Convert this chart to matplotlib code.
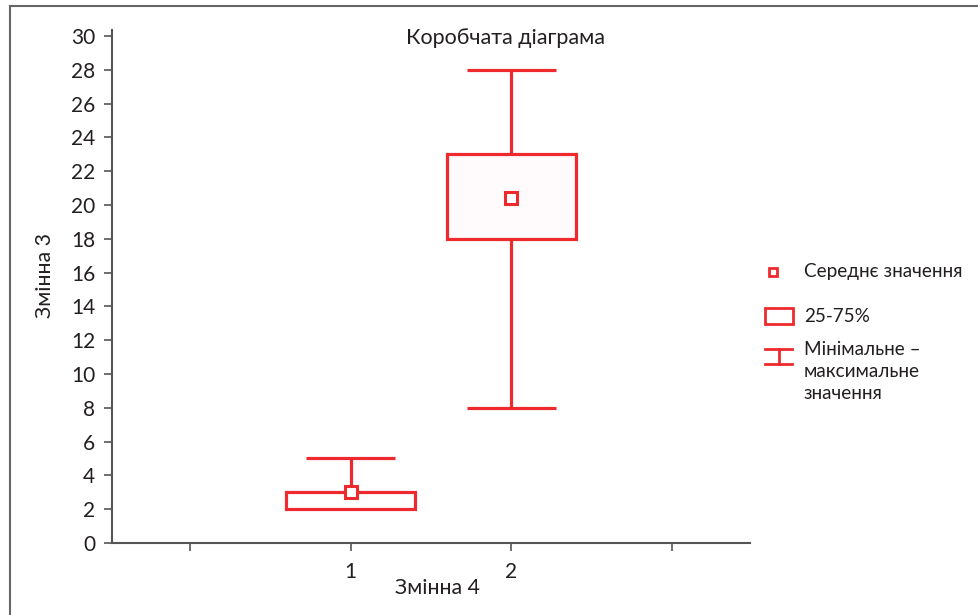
import matplotlib
matplotlib.use("Agg")
import matplotlib.pyplot as plt
from matplotlib.patches import Rectangle
from matplotlib.lines import Line2D

# ---- data ----
groups = [1, 2]
q1 = [2, 18]
q3 = [3, 23]
mins = [2, 8]
maxs = [5, 28]
means = [3, 20.4]
xticks = [0, 1, 2, 3]
xticklabels = ["", "1", "2", ""]
yticks = list(range(0, 31, 2))

title = "Коробчата діаграма"
xlabel = "Змінна 4"
ylabel = "Змінна 3"
leg_labels = ["Середнє значення", "25-75%", "Мінімальне –\nмаксимальне\nзначення"]

RED = "#ee2a2e"
TXT = "#231f20"
AX = "#555555"
FONT = ["Lato", "DejaVu Sans"]
plt.rcParams['font.family'] = FONT

W, H = 979, 615
fig = plt.figure(figsize=(W / 100, H / 100), dpi=100)

def fx(px):
    return px / W

def fy(py):
    return 1 - py / H

ax = fig.add_axes([fx(112), fy(543), fx(750) - fx(112), fy(30) - fy(543)])
ax.set_xlim(-0.485, 3.485)
ax.set_ylim(0, 30.35)

box_w = 0.8
cap_w = 0.55
lw = 2.3
fills = ["white", "#fffafc"]
for i, g in enumerate(groups):
    ax.plot([g, g], [q3[i], maxs[i]], color=RED, lw=lw, solid_capstyle='butt', zorder=2)
    ax.plot([g, g], [mins[i], q1[i]], color=RED, lw=lw, solid_capstyle='butt', zorder=2)
    ax.plot([g - cap_w / 2, g + cap_w / 2], [maxs[i], maxs[i]], color=RED, lw=lw, solid_capstyle='butt', zorder=2)
    if mins[i] < q1[i]:
        ax.plot([g - cap_w / 2, g + cap_w / 2], [mins[i], mins[i]], color=RED, lw=lw, solid_capstyle='butt', zorder=2)
    ax.add_patch(Rectangle((g - box_w / 2, q1[i]), box_w, q3[i] - q1[i],
                           facecolor=fills[i], edgecolor=RED, lw=lw, zorder=3))
    ax.plot([g], [means[i]], marker='s', ms=8.5, mfc='white', mec=RED, mew=2.2, zorder=4, ls='none')

for s in ["top", "right"]:
    ax.spines[s].set_visible(False)
for s in ["left", "bottom"]:
    ax.spines[s].set_color(AX)
    ax.spines[s].set_linewidth(1.5)

ax.set_yticks(yticks)
ax.set_yticklabels([str(v) for v in yticks])
ax.set_xticks(xticks)
ax.set_xticklabels(xticklabels)
ax.tick_params(axis='y', direction='out', length=6, width=1.2, color=AX, labelsize=15, labelcolor=TXT, pad=6)
ax.tick_params(axis='x', direction='out', length=6, width=1.2, color=AX, labelsize=15, labelcolor=TXT, pad=8)

fig.text(fx(506), fy(38), title, ha='center', va='center', fontsize=15.5, color=TXT)
fig.text(fx(45), fy(275), ylabel, ha='center', va='center', rotation=90, fontsize=15.3, color=TXT)
fig.text(fx(437), fy(588), xlabel, ha='center', va='center', fontsize=15.3, color=TXT)

fig.add_artist(Line2D([fx(10), fx(10)], [fy(6), 0], color="#666666", lw=1.5))
fig.add_artist(Line2D([fx(10), 1], [fy(6), fy(6)], color="#666666", lw=1.5))

fs_leg = 13.6
fig.add_artist(Line2D([fx(773)], [fy(272)], marker='s', ms=6, mfc='white', mec=RED, mew=2, ls='none'))
fig.text(fx(804), fy(272), leg_labels[0], ha='left', va='center', fontsize=fs_leg, color=TXT)

fig.add_artist(Rectangle((fx(765), fy(324)), fx(793) - fx(765), fy(308) - fy(324),
                         facecolor='white', edgecolor=RED, lw=2, transform=fig.transFigure))
fig.text(fx(804), fy(316), leg_labels[1], ha='left', va='center', fontsize=fs_leg, color=TXT)

fig.add_artist(Line2D([fx(765), fx(792)], [fy(349), fy(349)], color=RED, lw=2))
fig.add_artist(Line2D([fx(765), fx(792)], [fy(364), fy(364)], color=RED, lw=2))
fig.add_artist(Line2D([fx(778.5), fx(778.5)], [fy(349), fy(364)], color=RED, lw=2))
fig.text(fx(804), fy(341), leg_labels[2], ha='left', va='top', fontsize=fs_leg, color=TXT, linespacing=1.35)

fig.savefig("out.png", dpi=100)
